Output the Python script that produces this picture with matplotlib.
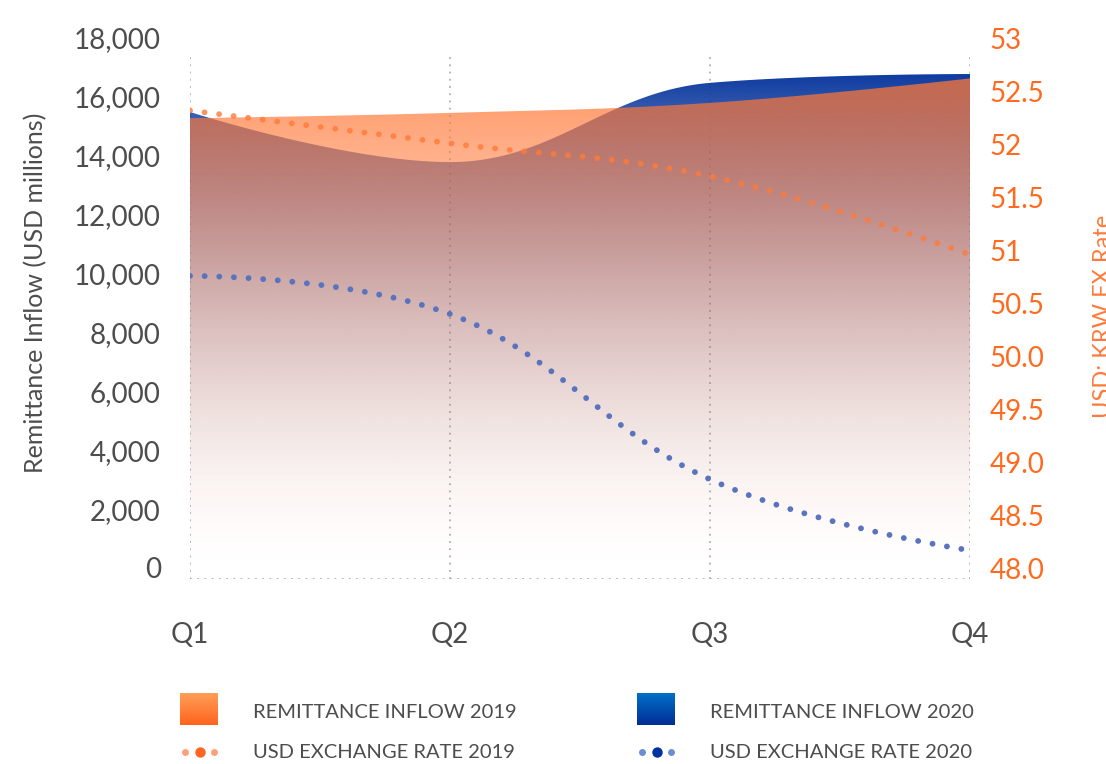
import numpy as np
import matplotlib
matplotlib.use('Agg')
import matplotlib.pyplot as plt
from matplotlib.patches import Polygon
from matplotlib.transforms import ScaledTranslation

plt.rcParams['font.family'] = ['Lato', 'DejaVu Sans']

# data
quarters = ['Q1', 'Q2', 'Q3', 'Q4']
inflow_2019 = [15650, 15830, 16170, 17000]
inflow_2020 = [15860, 14160, 16850, 17150]
fx_2019 = [52.42, 52.11, 51.80, 51.06]
fx_2020 = [50.86, 50.50, 48.94, 48.27]
left_ticks = [0, 2000, 4000, 6000, 8000, 10000, 12000, 14000, 16000, 18000]
right_ticks = [48.0, 48.5, 49.0, 49.5, 50.0, 50.5, 51, 51.5, 52, 52.5, 53]
right_labels = ['48.0', '48.5', '49.0', '49.5', '50.0', '50.5', '51', '51.5', '52', '52.5', '53']

ORANGE = np.array([255, 119, 54]) / 255
BLUE = np.array([15, 60, 160]) / 255
TXT = '#4d4d4d'
ACC = '#ff6a1f'


def spline(xs, ys, n=60):
    # same smoothing idea as a highcharts spline
    sm, den = 1.5, 2.5
    N = len(xs)
    lc = [None] * N
    rc = [None] * N
    for i in range(1, N - 1):
        px, py = xs[i], ys[i]
        lx, ly = xs[i - 1], ys[i - 1]
        nx, ny = xs[i + 1], ys[i + 1]
        lcx, lcy = (sm * px + lx) / den, (sm * py + ly) / den
        rcx, rcy = (sm * px + nx) / den, (sm * py + ny) / den
        corr = (rcy - lcy) * (rcx - px) / (rcx - lcx) + py - rcy
        lcy += corr
        rcy += corr
        if lcy > ly and lcy > py:
            lcy = max(ly, py); rcy = 2 * py - lcy
        elif lcy < ly and lcy < py:
            lcy = min(ly, py); rcy = 2 * py - lcy
        if rcy > ny and rcy > py:
            rcy = max(ny, py); lcy = 2 * py - rcy
        elif rcy < ny and rcy < py:
            rcy = min(ny, py); lcy = 2 * py - rcy
        lc[i] = (lcx, lcy)
        rc[i] = (rcx, rcy)
    t = np.linspace(0, 1, n)[:, None]
    out = []
    for i in range(1, N):
        p0 = np.array([xs[i - 1], ys[i - 1]])
        p3 = np.array([xs[i], ys[i]])
        p1 = np.array(rc[i - 1]) if rc[i - 1] else p0
        p2 = np.array(lc[i]) if lc[i] else p3
        seg = (1 - t) ** 3 * p0 + 3 * (1 - t) ** 2 * t * p1 + 3 * (1 - t) * t ** 2 * p2 + t ** 3 * p3
        out.append(seg if i == 1 else seg[1:])
    out = np.vstack(out)
    return out[:, 0], out[:, 1]


fig = plt.figure(figsize=(11.06, 7.64), dpi=100)
ax = fig.add_axes([190 / 1106, 1 - 579 / 764, 780 / 1106, 530 / 764])
ax2 = ax.twinx()

x = np.arange(len(quarters))


def gradient_area(vals, color, a_top, power, z):
    sx, sy = spline(x, vals)
    verts = np.column_stack([np.r_[sx, sx[-1], sx[0]], np.r_[sy, 0, 0]])
    patch = Polygon(verts, closed=True, transform=ax.transData,
                    facecolor='none', edgecolor='none')
    ax.add_patch(patch)
    f = np.linspace(0, 1, 600)
    a = a_top * np.clip(f / 0.95, 0, 1) ** power
    img = np.zeros((600, 2, 4))
    img[:, :, :3] = color
    img[:, :, 3] = a[:, None]
    im = ax.imshow(img, extent=[0, 3, 0, 18000], origin='lower',
                   aspect='auto', zorder=z, interpolation='bilinear')
    im.set_clip_path(patch)


gradient_area(inflow_2020, BLUE, 1.0, 2.3, 1)
gradient_area(inflow_2019, ORANGE, 0.77, 1.6, 2)

ax.set_xlim(0, 3)
ax.set_ylim(0, 18000)
ax2.set_ylim(48, 53)

# dotted grid
for xi in x:
    ax.axvline(xi, ymax=0.995, color='#b0b0b0', lw=1.3, ls=(0, (1, 3)), zorder=0.5)
ax.axhline(0, color='#b0b0b0', lw=1.3, ls=(0, (1, 3)), zorder=0.5)

# fx lines
sx, sy = spline(x, fx_2019)
ax2.plot(sx, sy, color='#ff7a3a', alpha=0.8, lw=4.2, ls=(0, (0.01, 2.5)),
         dash_capstyle='round')
sx, sy = spline(x, fx_2020)
ax2.plot(sx, sy, color='#5a73be', lw=4.2, ls=(0, (0.01, 2.5)),
         dash_capstyle='round')

for a in (ax, ax2):
    for s in a.spines.values():
        s.set_visible(False)

ax.set_xticks(x)
ax.set_xticklabels(quarters, fontsize=20, color=TXT)
ax.tick_params(axis='x', length=0, pad=31)
ax.set_yticks(left_ticks)
ax.set_yticklabels([f'{v:,}' for v in left_ticks], fontsize=20, color=TXT)
ax.tick_params(axis='y', length=0, pad=21)
ax2.set_yticks(right_ticks)
ax2.set_yticklabels(right_labels, fontsize=20, color=ACC)
ax2.tick_params(axis='y', length=0, pad=14)

up = ScaledTranslation(0, 11 / 100, fig.dpi_scale_trans)
for lab in ax.get_yticklabels() + ax2.get_yticklabels():
    lab.set_transform(lab.get_transform() + up)

fig.text(36 / 1106, 1 - 293 / 764, 'Remittance Inflow (USD millions)', rotation=90,
         ha='center', va='center', fontsize=18, color=TXT)
fig.text(1104 / 1106, 1 - 316 / 764, 'USD: KRW FX Rate', rotation=90,
         ha='center', va='center', fontsize=17, color='#ff7a3a')

# legend
def legend_square(x0, c_top, c_bot):
    lax = fig.add_axes([x0 / 1106, 1 - 725 / 764, 38 / 1106, 32 / 764])
    g = np.linspace(0, 1, 50)[:, None, None]
    img = np.array(c_top)[None, None, :] / 255 * (1 - g) + np.array(c_bot)[None, None, :] / 255 * g
    img = np.repeat(img, 2, axis=1)
    lax.imshow(img, aspect='auto', extent=[0, 1, 0, 1])
    lax.axis('off')


def legend_dots(x0, c_small, c_big):
    y = 1 - 752 / 764
    fig.add_artist(plt.Line2D([(x0 + 5) / 1106, (x0 + 34) / 1106], [y, y], ls='none',
                              marker='o', ms=5, color=c_small, mec='none'))
    fig.add_artist(plt.Line2D([(x0 + 20) / 1106], [y], ls='none', marker='o', ms=7.5,
                              color=c_big, mec='none'))


legend_square(180, (255, 160, 90), (255, 100, 30))
legend_square(637, (0, 115, 200), (0, 45, 150))
legend_dots(180, '#ffa07a', '#ff6420')
legend_dots(637, '#6e8cd2', '#0032a0')

fig.text(253 / 1106, 1 - 712 / 764, 'REMITTANCE INFLOW 2019', fontsize=14.5, color=TXT, va='center')
fig.text(710 / 1106, 1 - 712 / 764, 'REMITTANCE INFLOW 2020', fontsize=14.5, color=TXT, va='center')
fig.text(253 / 1106, 1 - 752 / 764, 'USD EXCHANGE RATE 2019', fontsize=14.5, color=TXT, va='center')
fig.text(710 / 1106, 1 - 752 / 764, 'USD EXCHANGE RATE 2020', fontsize=14.5, color=TXT, va='center')

fig.savefig('out.png', dpi=100)
